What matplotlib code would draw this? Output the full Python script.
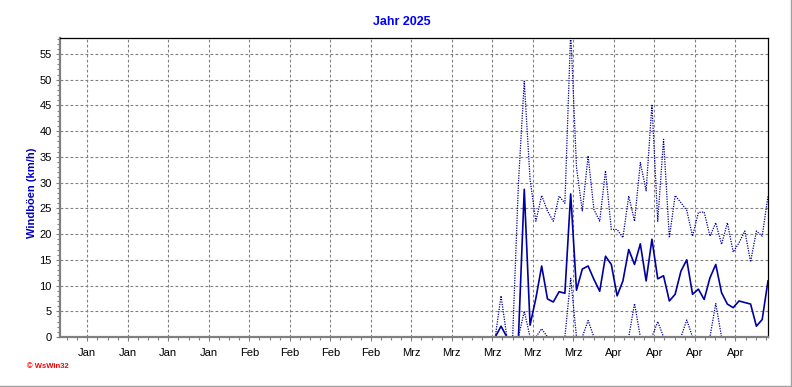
import numpy as np
import matplotlib.pyplot as plt
from matplotlib.lines import Line2D
from matplotlib.ticker import FixedLocator, MultipleLocator

# daily values, Jan 1 .. May 3 (first 75 days all zero)
mean_gust = [0.0] * 75 + [
	0.0, 2.1, 0.0, 0.0, 0.0, 28.7, 2.3, 7.5, 13.8, 7.4,
	6.8, 8.8, 8.5, 27.8, 9.1, 13.2, 13.8, 11.2, 8.9, 15.7,
	14.1, 8.0, 10.9, 17.0, 14.1, 18.1, 10.9, 19.0, 11.3, 11.9,
	7.0, 8.3, 12.8, 15.0, 8.3, 9.3, 7.3, 11.5, 14.1, 8.6,
	6.4, 5.7, 7.0, 6.7, 6.4, 2.1, 3.4, 10.9]
max_gust = [0.0] * 75 + [
	0.0, 8.0, 0.0, 0.0, 30.0, 49.7, 30.6, 22.5, 27.5, 24.5,
	22.5, 27.4, 26.0, 59.5, 33.0, 24.5, 35.2, 24.8, 22.5, 32.3,
	20.9, 20.9, 19.3, 27.4, 22.5, 33.9, 28.4, 45.2, 22.5, 38.4,
	19.3, 27.5, 26.1, 24.6, 19.6, 24.2, 24.3, 19.6, 22.2, 18.0,
	22.2, 16.5, 18.3, 20.6, 14.6, 20.6, 19.6, 27.4]
min_gust = [0.0] * 75 + [
	0.0, 0.0, 0.0, 0.0, 0.0, 5.0, 0.0, 0.0, 1.6, 0.0,
	0.0, 0.0, 0.0, 11.4, 0.0, 0.0, 3.2, 0.0, 0.0, 0.0,
	0.0, 0.0, 0.0, 0.0, 6.5, 0.0, 0.0, 0.0, 3.0, 0.0,
	0.0, 0.0, 0.0, 3.3, 0.0, 0.0, 0.0, 0.0, 6.5, 0.0,
	0.0, 0.0, 0.0, 0.0, 0.0, 0.0, 0.0, 0.0]
month_labels = ['Jan'] * 4 + ['Feb'] * 4 + ['Mrz'] * 5 + ['Apr'] * 4

days = np.arange(len(mean_gust))
line_col = '#0000a0'
grid_col = '#808080'
font = 'Liberation Sans'

fig = plt.figure(figsize=(7.92, 3.87), dpi=100)
ax = fig.add_axes([60 / 792, 50 / 387, 708 / 792, 299 / 387])

ax.plot(days, max_gust, color=line_col, lw=0.9, ls=(0, (1, 1)))
ax.plot(days, min_gust, color=line_col, lw=0.9, ls=(0, (1, 1)))
ax.plot(days, mean_gust, color=line_col, lw=1.2)

ax.set_xlim(0, days[-1])
ax.set_ylim(0, 58.1)

# weekly major ticks, minor every quarter week
major_x = 4.7 + 6.98 * np.arange(len(month_labels))
ax.xaxis.set_major_locator(FixedLocator(major_x))
ax.xaxis.set_minor_locator(FixedLocator(np.arange(1.21, days[-1], 1.745)))
ax.set_xticklabels(month_labels)
ax.yaxis.set_major_locator(MultipleLocator(5))
ax.yaxis.set_minor_locator(MultipleLocator(1))

ax.grid(True, which='major', color=grid_col, ls=(0, (2.5, 2)), lw=0.8)
ax.set_axisbelow(True)

ax.tick_params(which='major', length=3, width=0.8, color=grid_col, pad=3,
			   labelsize=8, labelcolor='black')
ax.tick_params(which='minor', length=2, width=0.8, color=grid_col)
ax.tick_params(axis='x', which='major', pad=5)
for lab in ax.get_xticklabels() + ax.get_yticklabels():
	lab.set_fontfamily(font)

for side in ['left', 'bottom']:
	ax.spines[side].set_color(grid_col)
	ax.spines[side].set_linewidth(1.6)
for side in ['top', 'right']:
	ax.spines[side].set_color('black')
	ax.spines[side].set_linewidth(0.9)

fig.text(402 / 792, 1 - 22 / 387, 'Jahr 2025', color='#0000ff', fontsize=9,
		 fontweight='bold', family=font, ha='center', va='center')
fig.text(32 / 792, 1 - 193 / 387, 'Windböen (km/h)', color='#0000c0', fontsize=8,
		 fontweight='bold', family=font, rotation=90, ha='center', va='center')
fig.text(27 / 792, 1 - 367 / 387, '© WsWin32', color='#ff0000', fontsize=5.5,
		 fontweight='bold', family=font, ha='left', va='center')

# window frame at bottom and right
fig.add_artist(Line2D([0, 1], [1.5 / 387, 1.5 / 387], transform=fig.transFigure,
					  color='#a0a0a0', lw=1))
fig.add_artist(Line2D([1 - 1.5 / 792, 1 - 1.5 / 792], [0, 1], transform=fig.transFigure,
					  color='#a0a0a0', lw=1))

fig.savefig('out.png', dpi=100)
